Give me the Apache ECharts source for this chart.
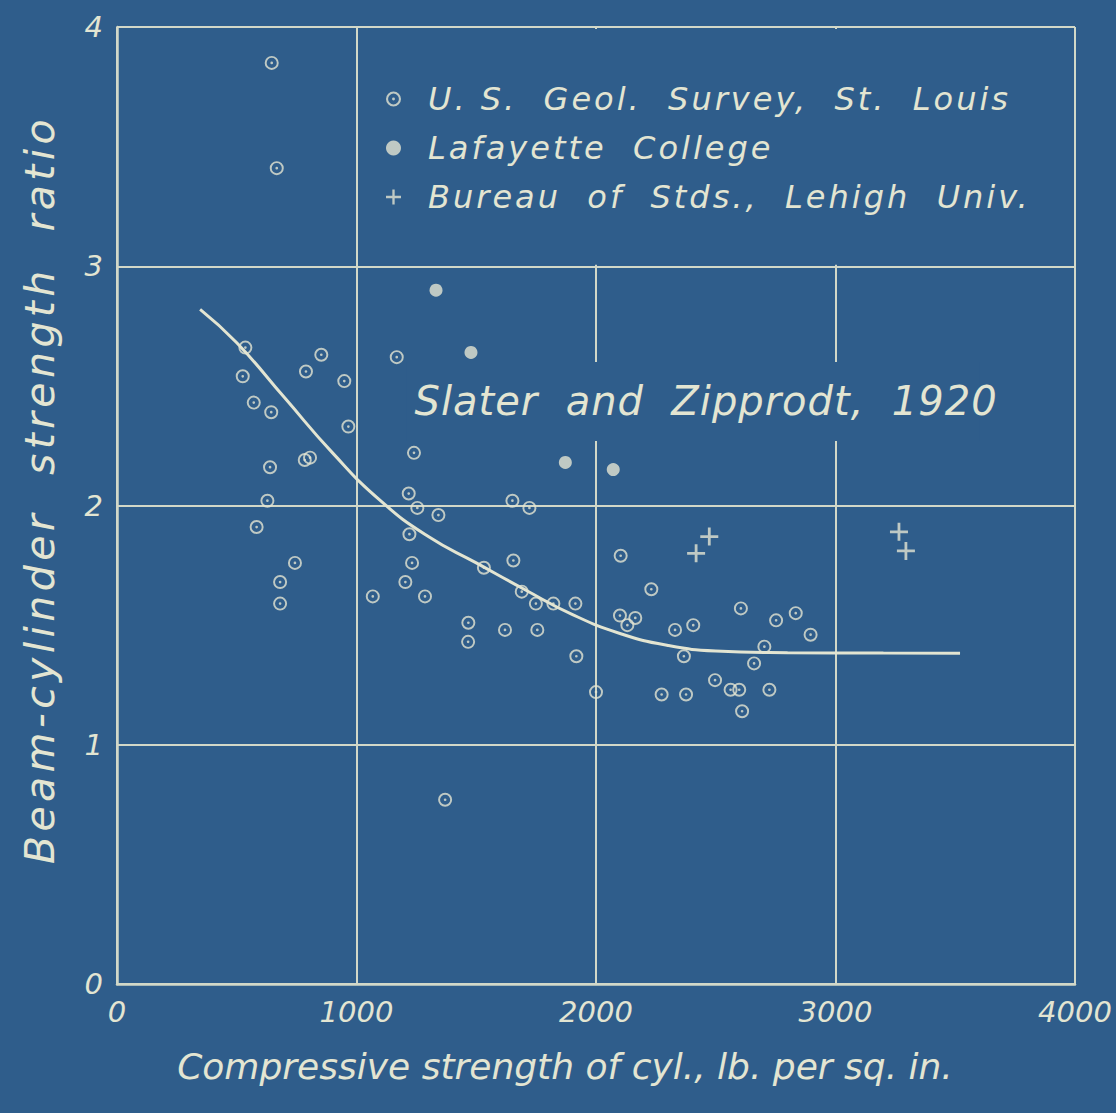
<!DOCTYPE html>
<html>
<head>
<meta charset="utf-8">
<script src="https://cdn.jsdelivr.net/npm/echarts@6/dist/echarts.min.js"></script>
<style>
  html, body { margin: 0; padding: 0; background: #2f5d8b; }
  #chart { width: 1116px; height: 1113px; }
  #chart text { white-space: pre; }
  /* hand-lettered spacing, keyed by each text group's font size */
  #chart text[style*="32px"] { letter-spacing: 3px; }
  #chart text[style*="40px"] { letter-spacing: 1px; }
  #chart text[style*="41px"] { letter-spacing: 4.4px; }
</style>
</head>
<body>
<div id="chart"></div>
<script>
// Compressive strength (lb/sq in) vs beam-cylinder strength ratio
const xTicks = [0, 1000, 2000, 3000, 4000];
const yTicks = [0, 1, 2, 3, 4];

const usgsStLouis = [
  [646, 3.85], [667, 3.41], [536, 2.66], [853, 2.63], [789, 2.56], [1168, 2.62],
  [525, 2.54], [949, 2.52], [571, 2.43], [644, 2.39], [966, 2.33], [1240, 2.22],
  [784, 2.19], [806, 2.20], [639, 2.16], [1218, 2.05], [1254, 1.99], [1342, 1.96],
  [628, 2.02], [583, 1.91], [1221, 1.88], [743, 1.76], [1232, 1.76], [681, 1.68],
  [1204, 1.68], [681, 1.59], [1068, 1.62], [1286, 1.62], [1467, 1.51], [1466, 1.43],
  [1532, 1.74], [1655, 1.77], [1651, 2.02], [1722, 1.99], [1690, 1.64], [1749, 1.59],
  [1822, 1.59], [1914, 1.59], [1620, 1.48], [1755, 1.48], [1918, 1.37], [2000, 1.22],
  [2103, 1.79], [2231, 1.65], [2100, 1.54], [2131, 1.50], [2164, 1.53], [2330, 1.48],
  [2406, 1.50], [2367, 1.37], [2274, 1.21], [2376, 1.21], [2497, 1.27], [2605, 1.57],
  [2752, 1.52], [2834, 1.55], [2896, 1.46], [2703, 1.41], [2660, 1.34], [2562, 1.23],
  [2598, 1.23], [2724, 1.23], [2610, 1.14], [1370, 0.77]
];
const lafayetteCollege = [[1332, 2.90], [1478, 2.64], [1872, 2.18], [2072, 2.15]];
const bureauStdsLehigh = [[2418, 1.80], [2473, 1.87], [3265, 1.89], [3294, 1.81]];
const slaterZipprodtCurve = [
  [347, 2.82], [500, 2.68], [700, 2.45], [900, 2.22], [1100, 2.02], [1300, 1.87],
  [1500, 1.76], [1700, 1.65], [1900, 1.545], [2100, 1.465], [2300, 1.415],
  [2500, 1.392], [2800, 1.385], [3200, 1.383], [3520, 1.382]
];

const seriesNames = [
  'U. S.  Geol.  Survey,  St.  Louis',
  'Lafayette  College',
  'Bureau  of  Stds.,  Lehigh  Univ.'
];
const curveLabel = 'Slater  and  Zipprodt,  1920';
const xName = 'Compressive strength of cyl., lb. per sq. in.';
const yName = 'Beam-cylinder  strength  ratio';

const BG = '#2f5d8b';
const INK = '#e3e5d2';
const LINE = '#d2d8c8';
const FONT = "'DejaVu Sans', 'Open Sans', sans-serif";

// ring with a centre dot, plus sign
const ringSymbol = 'path://M0,13A13,13 0 1,1 26,13A13,13 0 1,1 0,13Z M3.6,13A9.4,9.4 0 1,0 22.4,13A9.4,9.4 0 1,0 3.6,13Z M10.5,13A2.5,2.5 0 1,1 15.5,13A2.5,2.5 0 1,1 10.5,13Z';
const plusSymbol = 'path://M7.6,0H10.4V18H7.6Z M0,7.6H18V10.4H0Z';

function lettering(size) {
  return { color: INK, fontSize: size, fontStyle: 'italic', fontWeight: 400, fontFamily: FONT };
}

const chart = echarts.init(document.getElementById('chart'), null, { renderer: 'svg' });

const option = {
  backgroundColor: BG,
  animation: false,
  grid: { left: 117, top: 27, right: 41, bottom: 129 },
  xAxis: {
    type: 'value', min: xTicks[0], max: xTicks[xTicks.length - 1], interval: 1000,
    name: xName, nameLocation: 'middle', nameGap: 64,
    nameTextStyle: Object.assign(lettering(36), { padding: [0, 62, 0, 0] }),
    axisLine: { show: true, lineStyle: { color: LINE, width: 2.5 } },
    axisTick: { show: false },
    splitLine: { show: true, lineStyle: { color: LINE, width: 2 } },
    axisLabel: Object.assign(lettering(29), { margin: 13, formatter: v => String(v) })
  },
  yAxis: {
    type: 'value', min: yTicks[0], max: yTicks[yTicks.length - 1], interval: 1,
    name: yName, nameLocation: 'middle', nameGap: 57,
    nameTextStyle: Object.assign(lettering(41), { padding: [0, 0, 0, 32] }),
    axisLine: { show: true, lineStyle: { color: LINE, width: 2.5 } },
    axisTick: { show: false },
    splitLine: { show: true, lineStyle: { color: LINE, width: 2 } },
    axisLabel: Object.assign(lettering(29), { margin: 14, formatter: v => String(v) })
  },
  legend: {
    orient: 'vertical', left: 381, top: 78, itemGap: 17,
    itemWidth: 15, itemHeight: 15,
    data: seriesNames,
    textStyle: Object.assign(lettering(32), { padding: [0, 0, 0, 22] }),
    selectedMode: false
  },
  series: [
    {
      name: seriesNames[0], type: 'scatter', data: usgsStLouis,
      symbol: ringSymbol, symbolSize: 14, itemStyle: { color: INK }, z: 4
    },
    {
      name: seriesNames[1], type: 'scatter', data: lafayetteCollege,
      symbol: 'circle', symbolSize: 13, itemStyle: { color: INK }, z: 4
    },
    {
      name: seriesNames[2], type: 'scatter', data: bureauStdsLehigh,
      symbol: plusSymbol, symbolSize: 18, itemStyle: { color: INK }, z: 4
    },
    {
      name: curveLabel, type: 'line', data: slaterZipprodtCurve,
      smooth: 0.5, showSymbol: false, symbol: 'none',
      lineStyle: { color: INK, width: 3 }, z: 3
    }
  ]
};

chart.setOption(option);

// blank panels behind the key and the curve caption
const keyA = chart.convertToPixel({ gridIndex: 0 }, [1000, 4]);
const keyB = chart.convertToPixel({ gridIndex: 0 }, [4000, 3]);
const capA = chart.convertToPixel({ gridIndex: 0 }, [1000, 2.6]);
const capB = chart.convertToPixel({ gridIndex: 0 }, [3600, 2.27]);
chart.setOption({
  graphic: [
    {
      type: 'rect', z: 1, silent: true,
      shape: { x: keyA[0] + 2, y: keyA[1] + 2, width: keyB[0] - keyA[0] - 3.5, height: keyB[1] - keyA[1] - 3.5 },
      style: { fill: BG }
    },
    {
      type: 'rect', z: 1, silent: true,
      shape: { x: capA[0] + 50, y: capA[1], width: capB[0] - capA[0] - 50, height: capB[1] - capA[1] },
      style: { fill: BG }
    },
    {
      type: 'text', z: 5, silent: true,
      x: capA[0] + 58, y: (capA[1] + capB[1]) / 2,
      style: Object.assign(lettering(40), {
        text: curveLabel, fill: INK, verticalAlign: 'middle', align: 'left'
      })
    }
  ]
});
</script>
</body>
</html>
